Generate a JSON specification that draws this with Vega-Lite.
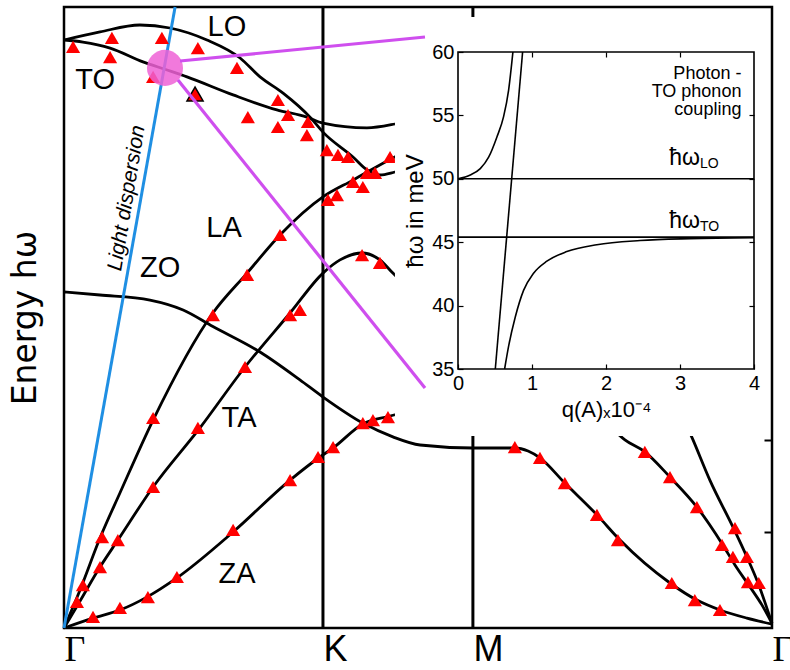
{
  "$schema": "https://vega.github.io/schema/vega-lite/v6.json",
  "width": 708,
  "height": 621,
  "autosize": {"type": "none"},
  "padding": {"left": 64, "top": 7, "right": 18, "bottom": 42},
  "background": "white",
  "config": {
    "view": {"stroke": "black", "strokeWidth": 2.5},
    "font": "Liberation Sans",
    "axis": {"labelColor": "black", "titleColor": "black", "tickColor": "black", "domainColor": "black", "grid": false, "titleFontWeight": "normal"}
  },
  "datasets": {
    "curves": [
      {"branch": "LO", "k": 0, "E": 196}, {"branch": "LO", "k": 0.139, "E": 198.7}, {"branch": "LO", "k": 0.293, "E": 201}, {"branch": "LO", "k": 0.409, "E": 200}, {"branch": "LO", "k": 0.552, "E": 196}, {"branch": "LO", "k": 0.68, "E": 190}, {"branch": "LO", "k": 0.757, "E": 183.7}, {"branch": "LO", "k": 0.846, "E": 178.3}, {"branch": "LO", "k": 0.95, "E": 170.3}, {"branch": "LO", "k": 1.0, "E": 165.3}, {"branch": "LO", "k": 1.116, "E": 157}, {"branch": "LO", "k": 1.17, "E": 152.7}, {"branch": "LO", "k": 1.22, "E": 151}, {"branch": "LO", "k": 1.278, "E": 152}, {"branch": "LO", "k": 1.375, "E": 154.3},
      {"branch": "TO", "k": 0, "E": 196}, {"branch": "TO", "k": 0.073, "E": 195.3}, {"branch": "TO", "k": 0.178, "E": 193.3}, {"branch": "TO", "k": 0.305, "E": 188.7}, {"branch": "TO", "k": 0.398, "E": 186}, {"branch": "TO", "k": 0.475, "E": 183.7}, {"branch": "TO", "k": 0.653, "E": 177.7}, {"branch": "TO", "k": 0.822, "E": 172.7}, {"branch": "TO", "k": 0.938, "E": 170.3}, {"branch": "TO", "k": 1.0, "E": 168.3}, {"branch": "TO", "k": 1.17, "E": 166.7}, {"branch": "TO", "k": 1.278, "E": 168}, {"branch": "TO", "k": 1.375, "E": 170},
      {"branch": "LA", "k": 0, "E": 0}, {"branch": "LA", "k": 0.062, "E": 12.7}, {"branch": "LA", "k": 0.139, "E": 30}, {"branch": "LA", "k": 0.216, "E": 45}, {"branch": "LA", "k": 0.344, "E": 69.3}, {"branch": "LA", "k": 0.575, "E": 105}, {"branch": "LA", "k": 0.707, "E": 118.3}, {"branch": "LA", "k": 0.834, "E": 131}, {"branch": "LA", "k": 1.0, "E": 143.7}, {"branch": "LA", "k": 1.116, "E": 149.3}, {"branch": "LA", "k": 1.27, "E": 156.7}, {"branch": "LA", "k": 1.375, "E": 161},
      {"branch": "TA", "k": 0, "E": 0}, {"branch": "TA", "k": 0.062, "E": 9}, {"branch": "TA", "k": 0.139, "E": 20.3}, {"branch": "TA", "k": 0.208, "E": 29.3}, {"branch": "TA", "k": 0.344, "E": 47}, {"branch": "TA", "k": 0.525, "E": 66.7}, {"branch": "TA", "k": 0.699, "E": 87}, {"branch": "TA", "k": 0.873, "E": 105}, {"branch": "TA", "k": 1.0, "E": 118.3}, {"branch": "TA", "k": 1.066, "E": 122.7}, {"branch": "TA", "k": 1.151, "E": 125}, {"branch": "TA", "k": 1.22, "E": 122.7}, {"branch": "TA", "k": 1.27, "E": 118.3}, {"branch": "TA", "k": 1.336, "E": 112.7},
      {"branch": "ZA", "k": 0, "E": 0}, {"branch": "ZA", "k": 0.112, "E": 3.3}, {"branch": "ZA", "k": 0.216, "E": 6}, {"branch": "ZA", "k": 0.32, "E": 10.3}, {"branch": "ZA", "k": 0.436, "E": 16.7}, {"branch": "ZA", "k": 0.653, "E": 32}, {"branch": "ZA", "k": 0.873, "E": 49.3}, {"branch": "ZA", "k": 0.988, "E": 57}, {"branch": "ZA", "k": 1.039, "E": 60}, {"branch": "ZA", "k": 1.154, "E": 68}, {"branch": "ZA", "k": 1.251, "E": 70.5}, {"branch": "ZA", "k": 1.375, "E": 73},
      {"branch": "ZO", "k": 0, "E": 112}, {"branch": "ZO", "k": 0.139, "E": 111}, {"branch": "ZO", "k": 0.332, "E": 109.3}, {"branch": "ZO", "k": 0.46, "E": 106}, {"branch": "ZO", "k": 0.575, "E": 100.5}, {"branch": "ZO", "k": 0.757, "E": 92}, {"branch": "ZO", "k": 0.911, "E": 82.7}, {"branch": "ZO", "k": 1.0, "E": 77}, {"branch": "ZO", "k": 1.154, "E": 68.3}, {"branch": "ZO", "k": 1.27, "E": 63.7}, {"branch": "ZO", "k": 1.375, "E": 61}, {"branch": "ZO", "k": 1.579, "E": 60}, {"branch": "ZO", "k": 1.741, "E": 60}, {"branch": "ZO", "k": 1.792, "E": 59}, {"branch": "ZO", "k": 1.838, "E": 56.7}, {"branch": "ZO", "k": 1.934, "E": 48.3}, {"branch": "ZO", "k": 2.058, "E": 37.7}, {"branch": "ZO", "k": 2.147, "E": 29.3}, {"branch": "ZO", "k": 2.34, "E": 15}, {"branch": "ZO", "k": 2.444, "E": 9.3}, {"branch": "ZO", "k": 2.533, "E": 6}, {"branch": "ZO", "k": 2.637, "E": 3.3}, {"branch": "ZO", "k": 2.734, "E": 1.3},
      {"branch": "MG1", "k": 2.069, "E": 71}, {"branch": "MG1", "k": 2.166, "E": 62.7}, {"branch": "MG1", "k": 2.243, "E": 58.7}, {"branch": "MG1", "k": 2.34, "E": 50.3}, {"branch": "MG1", "k": 2.444, "E": 40.3}, {"branch": "MG1", "k": 2.544, "E": 27.7}, {"branch": "MG1", "k": 2.591, "E": 21}, {"branch": "MG1", "k": 2.649, "E": 13.7}, {"branch": "MG1", "k": 2.695, "E": 7.7}, {"branch": "MG1", "k": 2.734, "E": 1.5},
      {"branch": "MG2", "k": 2.378, "E": 72.7}, {"branch": "MG2", "k": 2.429, "E": 62.7}, {"branch": "MG2", "k": 2.494, "E": 49.3}, {"branch": "MG2", "k": 2.583, "E": 33.7}, {"branch": "MG2", "k": 2.637, "E": 23.7}, {"branch": "MG2", "k": 2.68, "E": 15}, {"branch": "MG2", "k": 2.734, "E": 1.5}
    ],
    "points": [
      {"k": 0.035, "E": 193.7}, {"k": 0.185, "E": 196.7}, {"k": 0.178, "E": 190.3}, {"k": 0.378, "E": 196.7}, {"k": 0.344, "E": 183.7}, {"k": 0.517, "E": 193.3}, {"k": 0.668, "E": 186.7}, {"k": 0.826, "E": 176}, {"k": 0.71, "E": 170.3}, {"k": 0.865, "E": 171}, {"k": 0.942, "E": 168.7}, {"k": 0.826, "E": 167}, {"k": 0.938, "E": 164.3}, {"k": 1.015, "E": 159.3}, {"k": 1.058, "E": 157.7}, {"k": 1.097, "E": 157}, {"k": 1.259, "E": 157}, {"k": 1.17, "E": 151.7}, {"k": 1.201, "E": 151.7}, {"k": 1.116, "E": 148.7}, {"k": 1.154, "E": 147}, {"k": 1.019, "E": 142.7}, {"k": 1.054, "E": 144.3}, {"k": 0.834, "E": 131}, {"k": 0.707, "E": 117.7}, {"k": 0.575, "E": 104.3}, {"k": 0.873, "E": 104.3}, {"k": 0.911, "E": 106}, {"k": 1.151, "E": 124.3}, {"k": 1.22, "E": 121.7}, {"k": 0.699, "E": 87}, {"k": 0.344, "E": 70}, {"k": 0.517, "E": 66.7}, {"k": 0.344, "E": 47}, {"k": 0.147, "E": 30.3}, {"k": 0.208, "E": 29.3}, {"k": 0.139, "E": 20.3}, {"k": 0.073, "E": 14.3}, {"k": 0.05, "E": 8.7}, {"k": 0.112, "E": 3.7}, {"k": 0.216, "E": 6.7}, {"k": 0.324, "E": 10.3}, {"k": 0.436, "E": 17}, {"k": 0.653, "E": 32.7}, {"k": 0.873, "E": 49.3}, {"k": 0.981, "E": 57}, {"k": 1.039, "E": 60.3}, {"k": 1.154, "E": 68.3}, {"k": 1.193, "E": 69.3}, {"k": 1.251, "E": 70.3}, {"k": 1.741, "E": 60.3}, {"k": 1.838, "E": 56.7}, {"k": 1.934, "E": 48.3}, {"k": 2.058, "E": 37.7}, {"k": 2.139, "E": 29.3}, {"k": 2.347, "E": 15}, {"k": 2.436, "E": 9.3}, {"k": 2.533, "E": 6}, {"k": 2.243, "E": 58.7}, {"k": 2.34, "E": 50.3}, {"k": 2.444, "E": 40.3}, {"k": 2.541, "E": 27.7}, {"k": 2.583, "E": 23.7}, {"k": 2.637, "E": 23.7}, {"k": 2.641, "E": 15.3}, {"k": 2.683, "E": 15}, {"k": 2.591, "E": 33.3}
    ],
    "marked": [{"k": 0.506, "E": 178}],
    "vlines": [{"point": "K", "k": 1.0}, {"point": "M", "k": 1.579}],
    "segments": [
      {"name": "light", "k1": 0, "E1": 0, "k2": 0.429, "E2": 207},
      {"name": "upper", "k1": 0.448, "E1": 189, "k2": 1.394, "E2": 197},
      {"name": "lower", "k1": 0.44, "E1": 182.7, "k2": 1.394, "E2": 80}
    ],
    "branchLabels": [
      {"label": "LO", "k": 0.629, "E": 200.3}, {"label": "TO", "k": 0.12, "E": 182.7}, {"label": "ZO", "k": 0.371, "E": 120}, {"label": "LA", "k": 0.618, "E": 133.3}, {"label": "TA", "k": 0.676, "E": 70}, {"label": "ZA", "k": 0.668, "E": 18}
    ],
    "lightLabel": [{"label": "Light dispersion", "k": 0.243, "E": 143.3}],
    "spot": [{"k": 0.39, "E": 186.7}],
    "insetBox": [{"k1": 1.278, "k2": 2.726, "E1": 64, "E2": 203.7}],
    "insetCurves": [
      {"branch": "upper", "q": 0, "E": 50}, {"branch": "upper", "q": 0.166, "E": 50.3}, {"branch": "upper", "q": 0.301, "E": 50.8}, {"branch": "upper", "q": 0.414, "E": 51.7}, {"branch": "upper", "q": 0.526, "E": 53.3}, {"branch": "upper", "q": 0.616, "E": 54.9}, {"branch": "upper", "q": 0.684, "E": 57}, {"branch": "upper", "q": 0.742, "E": 60},
      {"branch": "photon", "q": 0.504, "E": 35}, {"branch": "photon", "q": 0.873, "E": 60},
      {"branch": "lower", "q": 0.63, "E": 35}, {"branch": "lower", "q": 0.684, "E": 36.8}, {"branch": "lower", "q": 0.774, "E": 39.1}, {"branch": "lower", "q": 0.886, "E": 41.2}, {"branch": "lower", "q": 1.021, "E": 42.55}, {"branch": "lower", "q": 1.201, "E": 43.5}, {"branch": "lower", "q": 1.471, "E": 44.26}, {"branch": "lower", "q": 1.876, "E": 44.8}, {"branch": "lower", "q": 2.461, "E": 45.13}, {"branch": "lower", "q": 3.136, "E": 45.28}, {"branch": "lower", "q": 4, "E": 45.36},
      {"branch": "wLO", "q": 0, "E": 50}, {"branch": "wLO", "q": 4, "E": 50},
      {"branch": "wTO", "q": 0, "E": 45.4}, {"branch": "wTO", "q": 4, "E": 45.4}
    ],
    "insetNotes": [
      {"line": "Photon -", "q": 3.83, "E": 58.3}, {"line": "TO phonon", "q": 3.83, "E": 56.85}, {"line": "coupling", "q": 3.83, "E": 55.4}
    ],
    "insetLevels": [
      {"sym": "ħω", "sub": "LO", "q": 3.27, "E": 51.08},
      {"sym": "ħω", "sub": "TO", "q": 3.27, "E": 46.1}
    ],
    "insetFrame": [{"q1": 0, "q2": 4, "E1": 35, "E2": 60}]
  },
  "layer": [
    {
      "layer": [
        {
          "layer": [
            {
              "data": {"name": "vlines"},
              "mark": {"type": "rule", "color": "black", "strokeWidth": 3},
              "encoding": {
                "x": {"field": "k", "type": "quantitative",
                  "scale": {"domain": [0, 2.734], "nice": false, "zero": false},
                  "axis": {"values": [0, 1, 1.579, 2.734], "labelExpr": "datum.value < 0.5 ? 'Γ' : (datum.value < 1.3 ? 'K' : (datum.value < 2 ? 'M' : 'Γ'))",
                    "labelFont": {"condition": {"test": "datum.value < 0.5 || datum.value > 2", "value": "Liberation Serif"}, "value": "Liberation Sans"},
                    "labelFontSize": 36, "labelAlign": "left", "labelBaseline": "top", "labelPadding": 4, "labelFlush": false, "labelOverlap": false, "labelBound": false,
                    "ticks": false, "domain": false, "title": null}},
                "y": {"datum": 0, "type": "quantitative",
                  "scale": {"domain": [0, 207], "nice": false, "zero": false},
                  "axis": {"labels": false, "ticks": false, "domain": false, "title": "Energy hω", "titleFont": "DejaVu Sans", "titleFontSize": 33, "titlePadding": 22}},
                "y2": {"datum": 207}
              }
            },
            {
              "data": {"name": "curves"},
              "mark": {"type": "line", "color": "black", "strokeWidth": 2.8, "interpolate": "monotone"},
              "encoding": {
                "x": {"field": "k", "type": "quantitative"},
                "y": {"field": "E", "type": "quantitative"},
                "detail": {"field": "branch"}
              }
            },
            {
              "data": {"name": "segments"},
              "transform": [{"filter": "datum.name == 'light'"}],
              "mark": {"type": "rule", "color": "#1f8fe3", "strokeWidth": 3},
              "encoding": {
                "x": {"field": "k1", "type": "quantitative"},
                "y": {"field": "E1", "type": "quantitative"},
                "x2": {"field": "k2"},
                "y2": {"field": "E2"}
              }
            },
            {
              "data": {"name": "points"},
              "mark": {"type": "point", "shape": "triangle-up", "filled": true, "color": "#ff0000", "size": 200, "opacity": 1},
              "encoding": {
                "x": {"field": "k", "type": "quantitative"},
                "y": {"field": "E", "type": "quantitative"}
              }
            },
            {
              "data": {"name": "marked"},
              "mark": {"type": "point", "shape": "triangle-up", "filled": true, "fill": "#ff0000", "stroke": "black", "strokeWidth": 1.5, "size": 260, "opacity": 1},
              "encoding": {
                "x": {"field": "k", "type": "quantitative"},
                "y": {"field": "E", "type": "quantitative"}
              }
            },
            {
              "data": {"name": "spot"},
              "mark": {"type": "point", "shape": "circle", "filled": true, "color": "#ee62d6", "size": 1300, "opacity": 0.85},
              "encoding": {
                "x": {"field": "k", "type": "quantitative"},
                "y": {"field": "E", "type": "quantitative"}
              }
            },
            {
              "data": {"name": "branchLabels"},
              "mark": {"type": "text", "fontSize": 29, "font": "Liberation Sans", "color": "black", "align": "center", "baseline": "middle"},
              "encoding": {
                "x": {"field": "k", "type": "quantitative"},
                "y": {"field": "E", "type": "quantitative"},
                "text": {"field": "label"}
              }
            },
            {
              "data": {"name": "lightLabel"},
              "mark": {"type": "text", "fontSize": 21, "font": "Liberation Sans", "fontStyle": "italic", "color": "black", "align": "center", "baseline": "middle", "angle": -80.7},
              "encoding": {
                "x": {"field": "k", "type": "quantitative"},
                "y": {"field": "E", "type": "quantitative"},
                "text": {"field": "label"}
              }
            },
            {
              "data": {"name": "insetBox"},
              "mark": {"type": "rect", "fill": "white", "strokeWidth": 0},
              "encoding": {
                "x": {"field": "k1", "type": "quantitative"},
                "x2": {"field": "k2"},
                "y": {"field": "E1", "type": "quantitative"},
                "y2": {"field": "E2"}
              }
            },
            {
              "data": {"name": "segments"},
              "transform": [{"filter": "datum.name != 'light'"}],
              "mark": {"type": "rule", "color": "#cf4fee", "strokeWidth": 3.2},
              "encoding": {
                "x": {"field": "k1", "type": "quantitative"},
                "y": {"field": "E1", "type": "quantitative"},
                "x2": {"field": "k2"},
                "y2": {"field": "E2"}
              }
            }
          ]
        },
        {
          "data": {"name": "points"},
          "mark": {"type": "rule", "opacity": 0},
          "encoding": {
            "y": {"field": "E", "type": "quantitative",
              "axis": {"orient": "right", "values": [32, 62.7], "labels": false, "domain": false, "ticks": true, "tickSize": -8, "tickWidth": 2, "title": null, "zindex": 1}}
          }
        }
      ],
      "resolve": {"axis": {"y": "independent"}}
    },
    {
      "layer": [
        {
          "layer": [
            {
              "data": {"name": "insetCurves"},
              "mark": {"type": "line", "color": "black", "strokeWidth": 1.6, "interpolate": "monotone"},
              "encoding": {
                "x": {"field": "q", "type": "quantitative",
                  "scale": {"domain": [0, 4], "range": [394, 690], "nice": false, "zero": false},
                  "axis": {"orient": "bottom", "offset": -259, "values": [0, 1, 2, 3, 4], "format": "d", "tickSize": -5, "tickWidth": 1.2, "labelPadding": 9, "labelFontSize": 20, "labelFlush": false, "labelOverlap": false, "domain": false, "title": "q(A)ₓ10⁻⁴", "titleFontSize": 22, "titlePadding": 6, "zindex": 1}},
                "y": {"field": "E", "type": "quantitative",
                  "scale": {"domain": [35, 60], "range": [362, 45], "nice": false, "zero": false},
                  "axis": {"orient": "left", "offset": -394, "values": [35, 40, 45, 50, 55, 60], "format": "d", "tickSize": -5, "tickWidth": 1.2, "labelPadding": 9, "labelFontSize": 20, "labelFlush": false, "labelOverlap": false, "domain": false, "title": "ħω in meV", "titleFontSize": 24, "titlePadding": 4, "zindex": 1}},
                "detail": {"field": "branch"}
              }
            },
            {
              "data": {"name": "insetNotes"},
              "mark": {"type": "text", "fontSize": 18, "font": "Liberation Sans", "color": "black", "align": "right", "baseline": "middle"},
              "encoding": {
                "x": {"field": "q", "type": "quantitative"},
                "y": {"field": "E", "type": "quantitative"},
                "text": {"field": "line"}
              }
            },
            {
              "data": {"name": "insetLevels"},
              "mark": {"type": "text", "fontSize": 23, "font": "Liberation Sans", "color": "black", "align": "right", "baseline": "alphabetic"},
              "encoding": {
                "x": {"field": "q", "type": "quantitative"},
                "y": {"field": "E", "type": "quantitative"},
                "text": {"field": "sym"}
              }
            },
            {
              "data": {"name": "insetLevels"},
              "mark": {"type": "text", "fontSize": 14, "font": "Liberation Sans", "color": "black", "align": "left", "baseline": "alphabetic", "dy": 3},
              "encoding": {
                "x": {"field": "q", "type": "quantitative"},
                "y": {"field": "E", "type": "quantitative"},
                "text": {"field": "sub"}
              }
            }
          ]
        },
        {
          "data": {"name": "insetFrame"},
          "mark": {"type": "rect", "fillOpacity": 0, "stroke": "black", "strokeWidth": 1.6},
          "encoding": {
            "x": {"field": "q1", "type": "quantitative",
              "axis": {"orient": "top", "offset": -45, "values": [1, 2, 3], "tickSize": -5, "tickWidth": 1.2, "labels": false, "domain": false, "title": null, "zindex": 1}},
            "x2": {"field": "q2"},
            "y": {"field": "E1", "type": "quantitative",
              "axis": {"orient": "right", "offset": -18, "values": [40, 45, 50, 55], "tickSize": -5, "tickWidth": 1.2, "labels": false, "domain": false, "title": null, "zindex": 1}},
            "y2": {"field": "E2"}
          }
        }
      ],
      "resolve": {"axis": {"x": "independent", "y": "independent"}}
    }
  ],
  "resolve": {"scale": {"x": "independent", "y": "independent"}, "axis": {"x": "independent", "y": "independent"}}
}
